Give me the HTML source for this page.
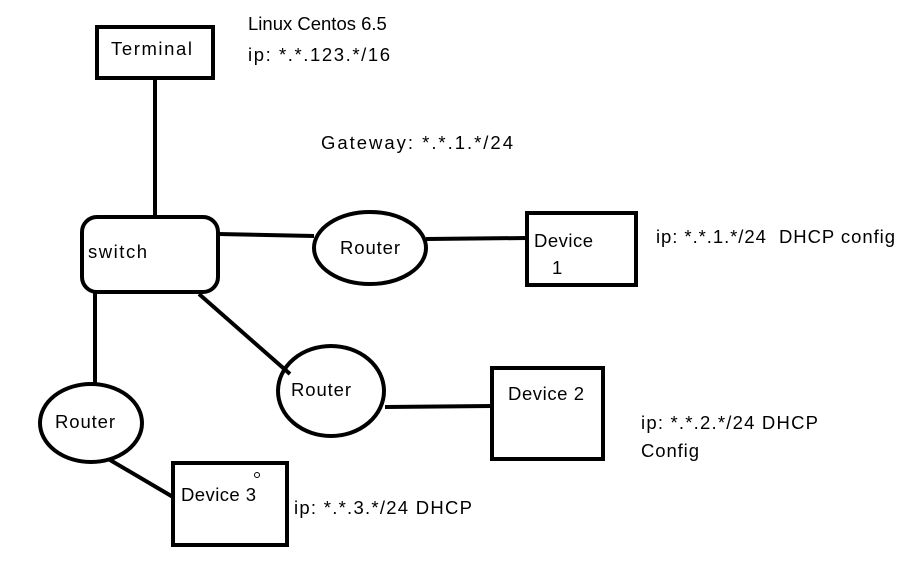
<!DOCTYPE html>
<html><head><meta charset="utf-8"><style>
html,body{margin:0;padding:0;background:#fff;}
svg{display:block;}
text{font-family:"Liberation Sans",sans-serif;font-size:18.5px;fill:#000;}
</style></head><body>
<svg width="906" height="570" viewBox="0 0 906 570" xmlns="http://www.w3.org/2000/svg">
<g fill="none" stroke="#000" stroke-width="4">
<rect x="97" y="27" width="116" height="51"/>
<line x1="155" y1="79" x2="155" y2="217"/>
<rect x="82" y="217" width="136" height="75" rx="15"/>
<line x1="218" y1="234" x2="314" y2="236"/>
<ellipse cx="370" cy="248" rx="56" ry="36"/>
<line x1="426" y1="239" x2="527" y2="238"/>
<rect x="527" y="213" width="109" height="72"/>
<line x1="199" y1="294" x2="290" y2="374"/>
<ellipse cx="331" cy="391" rx="53" ry="45"/>
<line x1="385" y1="407" x2="492" y2="406"/>
<rect x="492" y="368" width="111" height="91"/>
<line x1="95" y1="292" x2="95" y2="384"/>
<ellipse cx="91" cy="423" rx="51" ry="39"/>
<line x1="110" y1="460" x2="173" y2="497"/>
<rect x="173" y="463" width="114" height="82"/>
</g>
<circle cx="257" cy="475" r="2.5" fill="none" stroke="#000" stroke-width="1"/>
<text x="111" y="55" textLength="81" lengthAdjust="spacing">Terminal</text>
<text x="248" y="30">Linux Centos 6.5</text>
<text x="248" y="61" textLength="142" lengthAdjust="spacing">ip: *.*.123.*/16</text>
<text x="321" y="149" textLength="192" lengthAdjust="spacing">Gateway: *.*.1.*/24</text>
<text x="88" y="258" textLength="59" lengthAdjust="spacing">switch</text>
<text x="340" y="254" textLength="60" lengthAdjust="spacing">Router</text>
<text x="534" y="247" textLength="59" lengthAdjust="spacing">Device</text>
<text x="552" y="274">1</text>
<text x="656" y="243" textLength="239" lengthAdjust="spacing">ip: *.*.1.*/24&#160; DHCP config</text>
<text x="291" y="396" textLength="60" lengthAdjust="spacing">Router</text>
<text x="508" y="400" textLength="76" lengthAdjust="spacing">Device 2</text>
<text x="641" y="429" textLength="177" lengthAdjust="spacing">ip: *.*.2.*/24 DHCP</text>
<text x="641" y="457" textLength="58" lengthAdjust="spacing">Config</text>
<text x="55" y="428" textLength="60" lengthAdjust="spacing">Router</text>
<text x="181" y="501" textLength="75" lengthAdjust="spacing">Device 3</text>
<text x="294" y="514" textLength="178" lengthAdjust="spacing">ip: *.*.3.*/24 DHCP</text>
</svg>
</body></html>
